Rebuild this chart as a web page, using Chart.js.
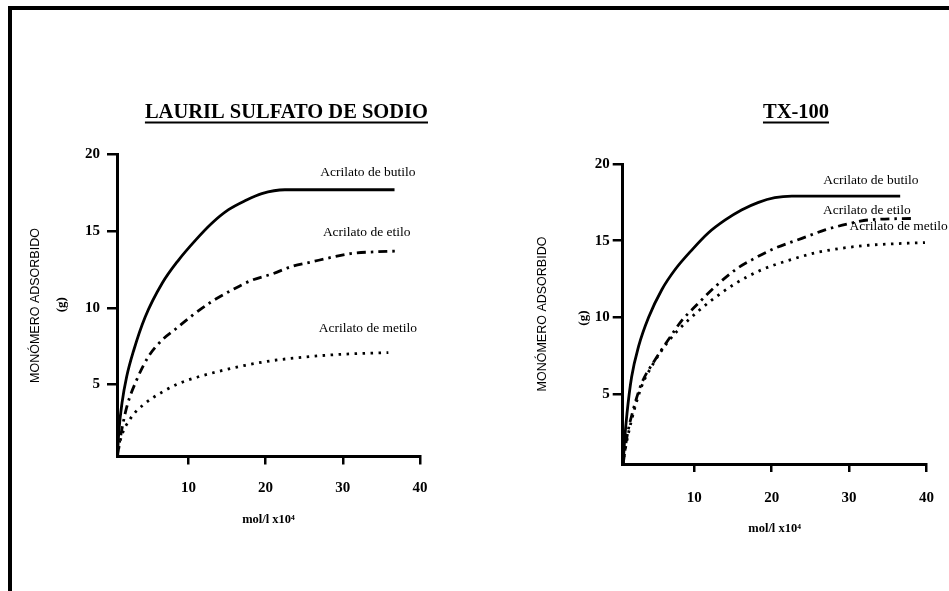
<!DOCTYPE html>
<html>
<head>
<meta charset="utf-8">
<script src="https://cdn.jsdelivr.net/npm/chart.js@4.4.1/dist/chart.umd.min.js"></script>
<style>
html,body{margin:0;padding:0;overflow:hidden;background:#fff;width:949px;height:591px}
#page{position:relative;width:949px;height:591px;overflow:hidden;background:#fff}
#frameTop{position:absolute;left:8px;top:6px;width:941px;height:4px;background:#000}
#frameLeft{position:absolute;left:8px;top:6px;width:4px;height:585px;background:#000}
#c1{position:absolute;left:0;top:0}
#c2{position:absolute;left:530px;top:0}
</style>
</head>
<body>
<div id="page">
  <div id="frameTop"></div>
  <div id="frameLeft"></div>
  <canvas id="c1" width="428" height="591"></canvas>
  <canvas id="c2" width="532" height="591"></canvas>
</div>
<script>
// ---------- texts ----------
const LS_TITLE = 'LAURIL SULFATO DE SODIO';
const TX_TITLE = 'TX-100';
const Y_TITLE = 'MONÓMERO ADSORBIDO';
const Y_UNIT = '(g)';
const X_TITLE = 'mol/l x10⁴';
const SERIES_NAMES = ['Acrilato de butilo', 'Acrilato de etilo', 'Acrilato de metilo'];
const X_TICKS = [10, 20, 30, 40];
const Y_TICKS = [5, 10, 15, 20];

// ---------- data: LAURIL SULFATO DE SODIO ----------
const lsButiloX = [0.8, 1.0, 1.4, 2.0, 2.9, 4.4, 6.6, 8.7, 10.9, 13.0, 15.2, 17.4, 19.5, 22.5, 36.7];
const lsButiloY = [0.3, 2.0, 3.8, 5.5, 7.2, 9.4, 11.6, 13.1, 14.4, 15.5, 16.4, 17.0, 17.45, 17.7, 17.7];
const lsEtiloX  = [0.8, 1.1, 2.0, 3.3, 4.8, 6.6, 8.3, 10.5, 13.0, 15.6, 18.2, 20.8, 23.4, 26.0, 28.6, 31.2, 34.2, 37.2];
const lsEtiloY  = [0.3, 1.3, 3.5, 5.3, 6.8, 7.9, 8.6, 9.5, 10.4, 11.15, 11.8, 12.2, 12.7, 13.0, 13.3, 13.55, 13.65, 13.7];
const lsMetiloX = [0.8, 1.2, 2.4, 4.1, 6.6, 8.7, 11.3, 14.3, 17.4, 20.8, 24.3, 27.7, 31.2, 35.9];
const lsMetiloY = [0.3, 1.4, 2.7, 3.65, 4.5, 5.05, 5.5, 5.9, 6.25, 6.55, 6.75, 6.9, 7.0, 7.08];

// ---------- data: TX-100 ----------
const txButiloX = [0.8, 1.0, 1.3, 1.9, 2.8, 4.1, 5.8, 7.5, 9.7, 11.8, 14.0, 16.1, 18.3, 20.4, 22.6, 36.6];
const txButiloY = [0.4, 2.0, 3.7, 6.1, 8.1, 10.0, 11.8, 13.1, 14.4, 15.5, 16.35, 17.0, 17.5, 17.8, 17.9, 17.9];
const txEtiloX  = [0.8, 1.3, 2.1, 3.2, 4.9, 6.6, 8.4, 10.1, 12.7, 15.3, 17.8, 20.4, 23.9, 26.9, 29.9, 32.5, 38.5];
const txEtiloY  = [0.4, 2.2, 3.95, 5.7, 7.2, 8.5, 9.8, 10.7, 12.0, 13.1, 13.85, 14.5, 15.15, 15.7, 16.1, 16.35, 16.45];
const txMetiloX = [0.8, 1.05, 1.9, 3.2, 4.5, 6.6, 9.2, 12.2, 15.3, 18.7, 22.1, 25.6, 29.0, 32.5, 35.9, 39.8];
const txMetiloY = [0.4, 1.3, 3.3, 5.5, 6.8, 8.4, 9.8, 11.1, 12.2, 13.1, 13.7, 14.2, 14.5, 14.7, 14.8, 14.87];

// ---------- styles / layout ----------
const SERIF = '"Liberation Serif", "Times New Roman", serif';
const SANS = '"Liberation Sans", Arial, sans-serif';
const STYLES = [
  {width: 2.8, dash: [], cap: 'butt'},
  {width: 2.8, dash: [9, 5, 2.5, 5], cap: 'butt'},
  {width: 2.8, dash: [2.5, 5.5], cap: 'butt'}
];
const TITLE_SIZE = 20.5;

function makeChart(id, L) {
  const annot = {
    id: 'annot_' + id,
    afterDraw(chart) {
      const ctx = chart.ctx, ca = chart.chartArea;
      const sx = chart.scales.x, sy = chart.scales.y;
      ctx.save();
      ctx.fillStyle = '#000';
      ctx.textAlign = 'center';
      ctx.textBaseline = 'middle';
      ctx.font = '13.5px ' + SERIF;
      L.labelPos.forEach((p, i) => {
        ctx.fillText(SERIES_NAMES[i], sx.getPixelForValue(p[0]), sy.getPixelForValue(p[1]));
      });
      // unit "(g)"
      ctx.save();
      ctx.translate(ca.left + L.unitDX, sy.getPixelForValue(L.unitY));
      ctx.rotate(-Math.PI / 2);
      ctx.font = 'bold 13px ' + SERIF;
      ctx.fillText(Y_UNIT, 0, 0);
      ctx.restore();
      // title underline
      const t = chart.titleBlock;
      ctx.font = 'bold ' + TITLE_SIZE + 'px ' + SERIF;
      const w = ctx.measureText(L.title).width;
      const x0 = L.titleAlign === 'end' ? t.right - w : (t.left + t.right) / 2 - w / 2;
      const cy = t.top + L.titlePadTop + TITLE_SIZE * 0.6 + 9;
      ctx.fillRect(x0, cy, w, 2);
      ctx.restore();
    }
  };

  return new Chart(document.getElementById(id), {
    type: 'line',
    data: {
      datasets: L.series.map((s, i) => ({
        label: SERIES_NAMES[i],
        data: s.x.map((x, j) => ({x: x, y: s.y[j]})),
        borderColor: '#000',
        borderWidth: STYLES[i].width,
        borderDash: STYLES[i].dash,
        borderCapStyle: STYLES[i].cap,
        pointRadius: 0,
        fill: false,
        cubicInterpolationMode: 'monotone'
      }))
    },
    options: {
      responsive: false,
      animation: false,
      devicePixelRatio: 1,
      layout: {padding: 0},
      plugins: {
        legend: {display: false},
        tooltip: {enabled: false},
        title: {
          display: true, text: L.title, align: L.titleAlign, color: '#000',
          font: {family: SERIF, size: TITLE_SIZE, weight: 'bold', lineHeight: 1.2},
          padding: {top: L.titlePadTop, bottom: L.titlePadBottom}
        }
      },
      scales: {
        x: {
          type: 'linear', position: 'bottom', min: L.xMin, max: 40,
          afterBuildTicks: s => { s.ticks = X_TICKS.map(v => ({value: v})); },
          afterFit: s => { s.height = L.xH; s.paddingLeft = 0; s.paddingRight = L.xPadR; },
          grid: {drawOnChartArea: false, drawTicks: true, tickLength: 8, color: '#000', lineWidth: 2.5},
          border: {display: true, color: '#000', width: 3},
          ticks: {color: '#000', font: {family: SERIF, size: 15, weight: 'bold'}, padding: L.xTickPad, maxRotation: 0, autoSkip: false},
          title: {display: true, text: X_TITLE, color: '#000',
                  font: {family: SERIF, size: 12.5, weight: 'bold', lineHeight: 1.2},
                  padding: {top: 0, bottom: L.xTitlePadBottom}}
        },
        y: {
          type: 'linear', position: 'left', min: L.yMin, max: 20,
          afterBuildTicks: s => { s.ticks = Y_TICKS.map(v => ({value: v})); },
          afterFit: s => { s.width = L.yW; s.paddingTop = 0; s.paddingBottom = 0; },
          grid: {drawOnChartArea: false, drawTicks: true, tickLength: 10, color: '#000', lineWidth: 2.5},
          border: {display: true, color: '#000', width: 3},
          ticks: {color: '#000', font: {family: SERIF, size: 15, weight: 'bold'}, padding: L.yTickPad},
          title: {display: true, text: Y_TITLE, color: '#000',
                  font: {family: SANS, size: 12.5, lineHeight: 1.2},
                  padding: {top: L.yTitlePadTop, bottom: 0}}
        }
      }
    },
    plugins: [annot]
  });
}

makeChart('c1', {
  title: LS_TITLE, titleAlign: 'end', titlePadTop: 100.2, titlePadBottom: 29.7,
  series: [{x: lsButiloX, y: lsButiloY}, {x: lsEtiloX, y: lsEtiloY}, {x: lsMetiloX, y: lsMetiloY}],
  labelPos: [[33.25, 18.85], [33.1, 14.94], [33.25, 8.68]],
  xMin: 0.75, yMin: 0.3, yW: 117, xH: 134.5, xPadR: 8,
  xTickPad: 14.5, xTitlePadBottom: 63.5, yTitlePadTop: 28.5, yTickPad: 7,
  unitDX: -55, unitY: 10.2
});

makeChart('c2', {
  title: TX_TITLE, titleAlign: 'center', titlePadTop: 100.2, titlePadBottom: 39.2,
  series: [{x: txButiloX, y: txButiloY}, {x: txEtiloX, y: txEtiloY}, {x: txMetiloX, y: txMetiloY}],
  labelPos: [[32.8, 18.9], [32.3, 16.94], [36.4, 15.9]],
  xMin: 0.75, yMin: 0.43, yW: 92.7, xH: 127, xPadR: 135.5,
  xTickPad: 17, xTitlePadBottom: 54.5, yTitlePadTop: 5.5, yTickPad: 3,
  unitDX: -39.5, unitY: 9.95
});
</script>
</body>
</html>
